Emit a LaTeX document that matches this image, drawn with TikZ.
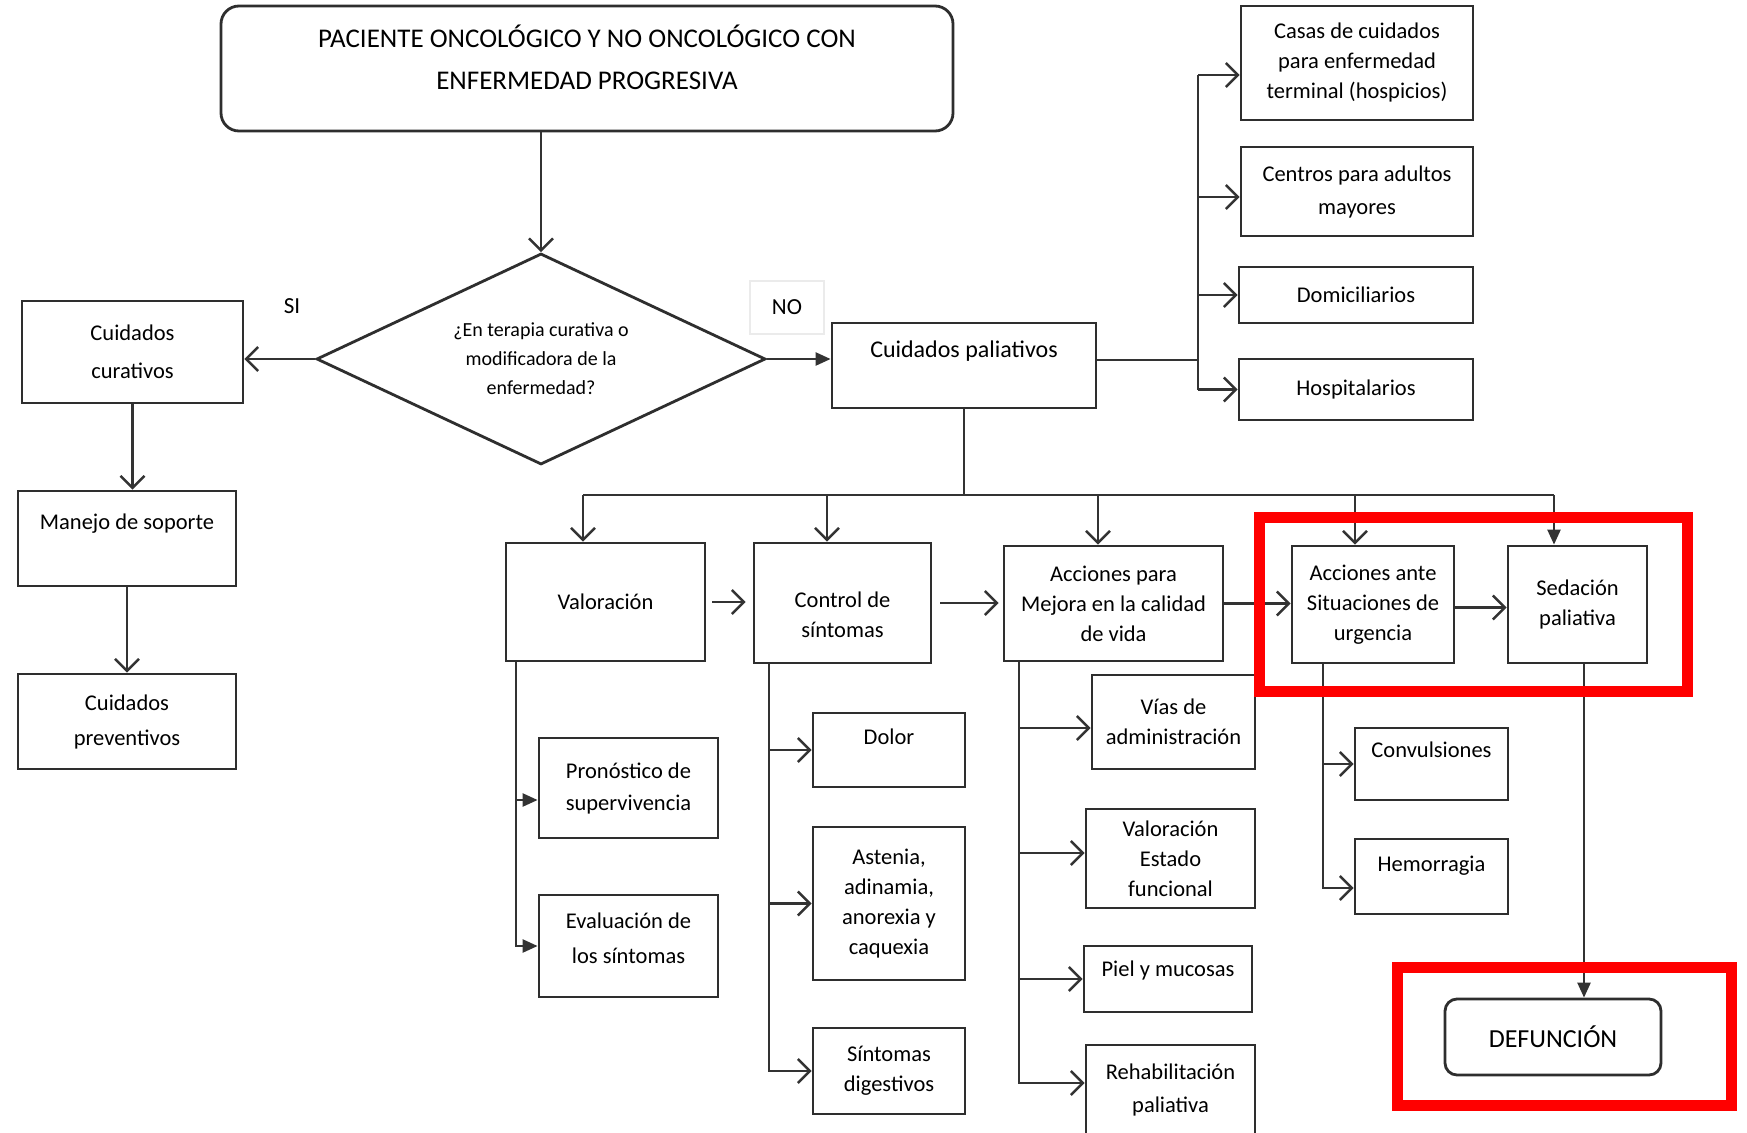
\documentclass[tikz,border=0pt]{standalone}
\usepackage{fontspec}
\setmainfont{Carlito}
\usetikzlibrary{arrows.meta,shapes.geometric,calc}
\tikzset{
  box/.style={draw=black!82, line width=2.8pt, rectangle, align=center, inner sep=2pt,
    font=\fontsize{22.5}{30}\selectfont, text=black},
  rbox/.style={box, rounded corners=18pt},
  ln/.style={draw=black!80, line width=2.4pt},
  openarr/.style={ln, -{Straight Barb[length=12pt,width=24pt,line width=2.4pt]}},
  fillarr/.style={ln, -{Triangle[length=15pt,width=13pt]}},
  lbl/.style={font=\fontsize{23}{28}\selectfont, text=black, inner sep=0pt},
  tup/.style={text depth=#1},
}
\begin{document}
\begin{tikzpicture}[x=1pt,y=-1pt]
\fill[white] (0,0) rectangle (1747,1132);
\useasboundingbox (0,0) rectangle (1747,1132);

% top and decision
\node[rbox, font=\fontsize{27}{42}\selectfont, minimum width=732, minimum height=125] (title) at (587,68.5)
  {PACIENTE ONCOLÓGICO Y NO ONCOLÓGICO CON\\ENFERMEDAD PROGRESIVA\rule[-22pt]{0pt}{22pt}};
\node[draw=black!82, line width=2.8pt, diamond, aspect=2.13, inner sep=0pt, minimum width=449,
  minimum height=211, align=center, font=\fontsize{20}{29}\selectfont, text=black] (dia) at (541,359)
  {¿En terapia curativa o\\modificadora de la\\enfermedad?};
\node[lbl] (si) at (292,306) {SI};
\node[lbl, draw=black!8, line width=1.5pt, minimum width=74, minimum height=53] (no) at (787,307.5) {NO};

% left column
\node[box, font=\fontsize{22.5}{38}\selectfont, minimum width=221, minimum height=102] (cur) at (132.5,352) {Cuidados\\curativos};
\node[box, tup=34pt, minimum width=218, minimum height=95] (man) at (127,538.5) {Manejo de soporte};
\node[box, font=\fontsize{22.5}{35}\selectfont, minimum width=218, minimum height=95] (prev) at (127,721.5) {Cuidados\\preventivos};

% paliativos
\node[box, font=\fontsize{24}{30}\selectfont, tup=32pt, minimum width=264, minimum height=85] (pal) at (964,365.5) {Cuidados paliativos};

% right boxes
\node[box, minimum width=232, minimum height=114] (casas) at (1357,63) {Casas de cuidados\\para enfermedad\\terminal (hospicios)};
\node[box, font=\fontsize{22.5}{33}\selectfont, minimum width=232, minimum height=89] (cent) at (1357,191.5) {Centros para adultos\\mayores};
\node[box, minimum width=234, minimum height=56] (dom) at (1356,295) {Domiciliarios};
\node[box, minimum width=234, minimum height=61] (hosp) at (1356,389.5) {Hospitalarios};

% row
\node[box, minimum width=199, minimum height=118] (val) at (605.5,602) {Valoración};
\node[box, minimum width=177, minimum height=120] (ctrl) at (842.5,603) {\rule{0pt}{40pt}Control de\\síntomas};
\node[box, minimum width=219, minimum height=115] (cal) at (1113.5,603.5) {Acciones para\\Mejora en la calidad\\de vida};
\node[box, minimum width=162, minimum height=117] (urg) at (1373,604.5) {Acciones ante\\Situaciones de\\urgencia};
\node[box, minimum width=139, minimum height=117] (sed) at (1577.5,604.5) {Sedación\\paliativa};

% under valoracion
\node[box, font=\fontsize{22.5}{32}\selectfont, minimum width=179, minimum height=100] (pron) at (628.5,788) {Pronóstico de\\supervivencia};
\node[box, font=\fontsize{22.5}{35}\selectfont, minimum width=179, minimum height=102] (eval) at (628.5,946) {Evaluación de\\los síntomas\rule[-16pt]{0pt}{16pt}};

% under control
\node[box, tup=26pt, minimum width=152, minimum height=74] (dolor) at (889,750) {Dolor};
\node[box, minimum width=152, minimum height=153] (ast) at (889,903.5) {Astenia,\\adinamia,\\anorexia y\\caquexia};
\node[box, minimum width=152, minimum height=86] (dig) at (889,1071) {Síntomas\\digestivos};

% under calidad
\node[box, minimum width=163, minimum height=94] (vias) at (1173.5,722) {Vías de\\administración};
\node[box, minimum width=169, minimum height=99] (vef) at (1170.5,858.5) {Valoración\\Estado\\funcional};
\node[box, tup=20pt, minimum width=168, minimum height=66] (piel) at (1168,979) {Piel y mucosas};
\node[box, font=\fontsize{22.5}{33}\selectfont, minimum width=169, minimum height=90] (reh) at (1170.5,1090) {Rehabilitación\\paliativa};

% under urgencia
\node[box, tup=28pt, minimum width=153, minimum height=72] (conv) at (1431.5,764) {Convulsiones};
\node[box, tup=26pt, minimum width=153, minimum height=75] (hem) at (1431.5,876.5) {Hemorragia};

% defuncion
\node[rbox, rounded corners=12pt, font=\fontsize{26}{30}\selectfont, minimum width=216, minimum height=76] (def) at (1553,1037) {DEFUNCIÓN};

% ---- connectors ----
\draw[openarr] (dia.north |- title.south) -- (dia.north);
\draw[openarr] (dia.west) -- (dia.west -| cur.east);
\draw[fillarr] (dia.east) -- (dia.east -| pal.west);
\draw[openarr] (cur.south) -- (cur.south |- man.north);
\draw[openarr] (man.south) -- (man.south |- prev.north);

% right bus
\coordinate (rb) at (1198,360);
\coordinate (ac) at ([yshift=-12pt]casas.west);
\coordinate (an) at ([yshift=-5.5pt]cent.west);
\draw[ln] (pal.east |- rb) -- (rb);
\draw[ln] (rb |- ac) -- (rb |- hosp.west);
\draw[openarr] (rb |- ac) -- (ac);
\draw[openarr] (rb |- an) -- (an);
\draw[openarr] (rb |- dom.west) -- (dom.west);
\draw[openarr] (rb |- hosp.west) -- (hosp.west);

% lower bus
\coordinate (bus) at (964,495);
\coordinate (b1) at (583,495);
\coordinate (b2) at (827,495);
\coordinate (b3) at (1098,495);
\coordinate (b4) at (1355,495);
\coordinate (b5) at (1554,495);
\draw[ln] (pal.south) -- (bus);
\draw[ln] (b1) -- (b5);
\draw[openarr] (b1) -- (b1 |- val.north);
\draw[openarr] (b2) -- (b2 |- ctrl.north);
\draw[openarr] (b3) -- (b3 |- cal.north);
\draw[openarr] (b4) -- (b4 |- urg.north);
\draw[fillarr] (b5) -- (b5 |- sed.north);

% row arrows
\draw[openarr, shorten <=6pt, shorten >=7pt] (val.east) -- (val.east -| ctrl.west);
\draw[openarr, shorten <=8pt, shorten >=4pt] (ctrl.east) -- (ctrl.east -| cal.west);
\draw[openarr] (cal.east) -- (cal.east -| urg.west);
\draw[openarr] ([yshift=-3pt]urg.east) -- ([yshift=-3pt]urg.east -| sed.west);

% valoracion trunk
\coordinate (vx) at (516,0);
\coordinate (vt) at (val.south -| vx);
\coordinate (pa) at ([yshift=-12pt]pron.west);
\draw[fillarr] (vt) |- (eval.west);
\draw[fillarr] (vt |- pa) -- (pa);

% control trunk
\coordinate (cx) at (769,0);
\coordinate (ct) at (ctrl.south -| cx);
\draw[openarr] (ct) |- (dig.west);
\draw[openarr] (ct |- dolor.west) -- (dolor.west);
\draw[openarr] (ct |- ast.west) -- (ast.west);

% calidad trunk
\coordinate (kx) at (1019,0);
\coordinate (kt) at (cal.south -| kx);
\coordinate (ra) at ([yshift=7pt]reh.west);
\coordinate (va) at ([yshift=-6pt]vias.west);
\coordinate (fa) at ([yshift=5.5pt]vef.west);
\draw[openarr] (kt) |- (ra);
\draw[openarr] (kt |- va) -- (va);
\draw[openarr] (kt |- fa) -- (fa);
\draw[openarr] (kt |- piel.west) -- (piel.west);

% urgencia trunk
\coordinate (ux) at (1323,0);
\coordinate (ut) at (urg.south -| ux);
\coordinate (ha) at ([yshift=-11.5pt]hem.west);
\draw[openarr] (ut) |- (ha);
\draw[openarr] (ut |- conv.west) -- (conv.west);

% sedacion -> defuncion
\coordinate (sx) at (1584,0);
\draw[fillarr] (sed.south -| sx) -- (def.north -| sx);

% red highlight frames
\draw[red, line width=11pt] (1259,517) rectangle (1687,691);
\draw[red, line width=11pt] (1397,967) rectangle (1731,1105);
\end{tikzpicture}
\end{document}
